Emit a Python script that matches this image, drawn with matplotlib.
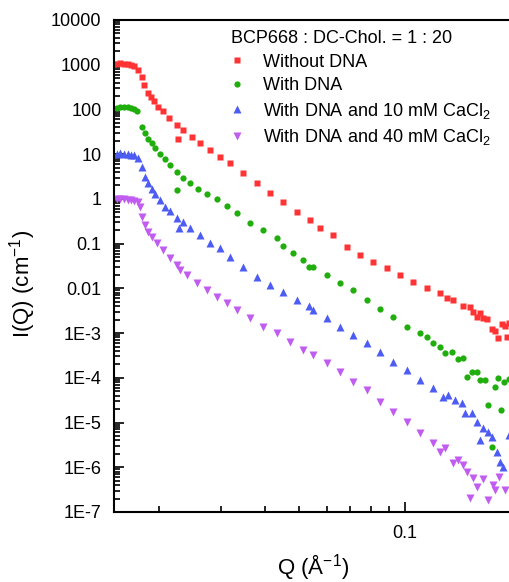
import matplotlib
matplotlib.use("Agg")
import matplotlib.pyplot as plt
from matplotlib.ticker import FixedLocator, NullFormatter, LogLocator

plt.rcParams['font.family'] = ['Liberation Sans', 'DejaVu Sans']
plt.rcParams['mathtext.fontset'] = 'custom'
plt.rcParams['mathtext.rm'] = 'Liberation Sans'
plt.rcParams['mathtext.it'] = 'Liberation Sans:italic'
plt.rcParams['mathtext.bf'] = 'Liberation Sans:bold'

# Q (1/A) and I(Q) (1/cm)
q_red = [0.01481, 0.01520, 0.01550, 0.01591, 0.01633, 0.01666, 0.01699, 0.01744, 0.01790, 0.01814,
         0.01862, 0.01899, 0.01936, 0.01988, 0.02054, 0.02136, 0.02251, 0.02266, 0.02340, 0.02482,
         0.02616, 0.02793, 0.02981, 0.03183, 0.03466, 0.03799, 0.04136, 0.04502, 0.04934, 0.05372,
         0.05735, 0.06244, 0.06843, 0.07450, 0.08111, 0.08889, 0.09678, 0.1054, 0.1155, 0.1257,
         0.1316, 0.1369, 0.1461, 0.1530, 0.1560, 0.1602, 0.1633, 0.1665, 0.1710, 0.1767,
         0.1802, 0.1837, 0.1886, 0.1923, 0.1949, 0.1974]
i_red = [1037, 1037, 1091, 1037, 1037, 985, 935, 762, 531, 352,
         233, 189, 154, 113, 92, 64, 44.8, 21.8, 34.6, 24.1,
         17.7, 12.4, 8.6, 6.3, 3.78, 2.26, 1.35, 0.848, 0.507, 0.336,
         0.222, 0.155, 0.0836, 0.0553, 0.0386, 0.0283, 0.0197, 0.0138, 0.0101, 0.00782,
         0.00604, 0.00545, 0.00400, 0.00380, 0.00294, 0.00227, 0.00279, 0.00215, 0.00205, 0.00122,
         0.00110, 0.00077, 0.00158, 0.00143, 0.00081, 0.00167]

q_green = [0.01481, 0.01520, 0.01550, 0.01591, 0.01633, 0.01666, 0.01699, 0.01732, 0.01790, 0.01826,
           0.01862, 0.01911, 0.01949, 0.02014, 0.02081, 0.02150, 0.02251, 0.02251, 0.02340, 0.02450,
           0.02582, 0.02739, 0.02923, 0.03121, 0.03332, 0.03629, 0.03951, 0.04329, 0.04502, 0.04806,
           0.05131, 0.05337, 0.05478, 0.06005, 0.06536, 0.07117, 0.07798, 0.08490, 0.09245, 0.1013,
           0.1103, 0.1155, 0.1201, 0.1257, 0.1299, 0.1360, 0.1415, 0.1461, 0.1500, 0.1550,
           0.1602, 0.1633, 0.1687, 0.1721, 0.1767, 0.1802, 0.1837, 0.1874, 0.1911, 0.1974]
i_green = [108, 108, 113, 113, 113, 108, 102, 92, 40.4, 29.6,
           21.8, 17.7, 13.7, 10.0, 7.77, 5.70, 3.98, 1.57, 2.92, 2.26,
           1.66, 1.28, 0.99, 0.690, 0.481, 0.288, 0.200, 0.133, 0.0879, 0.0612,
           0.0428, 0.0298, 0.0298, 0.0197, 0.0131, 0.00912, 0.00545, 0.00343, 0.00227, 0.00136,
           0.000996, 0.00081, 0.000596, 0.000484, 0.000356, 0.000374, 0.000261, 0.000275, 0.000103, 0.000134,
           0.000134, 8.85e-5, 8.85e-5, 2.44e-5, 2.80e-6, 6.17e-5, 9.8e-5, 1.88e-5, 7.98e-5, 9.31e-5]

q_blue = [0.01481, 0.01520, 0.01550, 0.01591, 0.01633, 0.01666, 0.01699, 0.01744, 0.01790, 0.01826,
          0.01862, 0.01911, 0.01949, 0.02014, 0.02081, 0.02150, 0.02251, 0.02280, 0.02340, 0.02450,
          0.02616, 0.02793, 0.02981, 0.03183, 0.03466, 0.03799, 0.04136, 0.04502, 0.04934, 0.05337,
          0.05478, 0.06005, 0.06536, 0.07117, 0.07798, 0.08490, 0.09245, 0.1013, 0.1103, 0.1201,
          0.1282, 0.1325, 0.1387, 0.1452, 0.1480, 0.1550, 0.1602, 0.1633, 0.1665, 0.1721,
          0.1767, 0.1825, 0.1862, 0.1899, 0.1974]
i_blue = [10.0, 10.0, 10.6, 10.0, 10.0, 9.55, 9.55, 8.18, 5.14, 3.07,
          2.26, 1.66, 1.28, 0.94, 0.656, 0.533, 0.372, 0.222, 0.303, 0.222,
          0.155, 0.103, 0.0793, 0.0499, 0.0298, 0.0178, 0.0118, 0.00822, 0.00545, 0.00400,
          0.00325, 0.00215, 0.00136, 0.000897, 0.000594, 0.000374, 0.000223, 0.000148, 8.83e-5, 5.85e-5,
          3.68e-5, 4.08e-5, 3.16e-5, 2.70e-5, 1.61e-5, 1.61e-5, 1.02e-5, 4.02e-6, 7.45e-6, 6.07e-6,
          4.69e-6, 2.17e-6, 1.29e-6, 1.0e-6, 5.2e-6]

q_purple = [0.01481, 0.01520, 0.01550, 0.01591, 0.01633, 0.01666, 0.01699, 0.01744, 0.01767, 0.01790,
            0.01826, 0.01862, 0.01911, 0.01975, 0.02054, 0.02150, 0.02251, 0.02295, 0.02402, 0.02565,
            0.02739, 0.02923, 0.03121, 0.03332, 0.03629, 0.03951, 0.04329, 0.04713, 0.05131, 0.05478,
            0.06005, 0.06536, 0.07117, 0.07798, 0.08490, 0.09245, 0.1013, 0.1103, 0.1201, 0.1257,
            0.1299, 0.1369, 0.1415, 0.1461, 0.1500, 0.1530, 0.1560, 0.1602, 0.1633, 0.1665,
            0.1721, 0.1778, 0.1802, 0.1849, 0.1923]
i_purple = [0.94, 0.99, 0.99, 0.99, 0.94, 0.94, 0.893, 0.848, 0.656, 0.392,
            0.259, 0.181, 0.140, 0.103, 0.0716, 0.0474, 0.0330, 0.0255, 0.0197, 0.0131,
            0.00912, 0.00635, 0.00467, 0.00325, 0.00215, 0.00136, 0.000996, 0.000627, 0.000414, 0.000321,
            0.000212, 0.000133, 7.98e-5, 5.28e-5, 2.85e-5, 1.70e-5, 1.02e-5, 5.77e-6, 3.44e-6, 2.17e-6,
            2.66e-6, 1.23e-6, 1.44e-6, 1.11e-6, 7.73e-7, 2.03e-7, 5.68e-7, 3.57e-7, 8.4e-8, 5.39e-7,
            1.83e-7, 3.95e-7, 3.06e-7, 5.97e-7, 3.06e-7]

y_ticks = [1e4, 1e3, 1e2, 1e1, 1, 0.1, 0.01, 1e-3, 1e-4, 1e-5, 1e-6, 1e-7]
y_labels = ["10000", "1000", "100", "10", "1", "0.1", "0.01", "1E-3", "1E-4", "1E-5", "1E-6", "1E-7"]
x_ticks = [0.1]
x_labels = ["0.1"]

fig = plt.figure(figsize=(5.1, 5.82), dpi=100)
ax = fig.add_axes([114/510, 1 - 512/582, 398/510, 492/582])

ax.plot(q_red, i_red, 's', color='#ff3333', ms=4.2, mec='none', label='Without DNA')
ax.plot(q_green, i_green, 'o', color='#1fae0b', ms=4.5, mec='none', label='With DNA')
ax.plot(q_blue, i_blue, '^', color='#4d5cf2', ms=5.5, mec='none', label='With DNA and 10 mM CaCl$_2$')
ax.plot(q_purple, i_purple, 'v', color='#c05cf0', ms=5.5, mec='none', label='With DNA and 40 mM CaCl$_2$')

ax.set_xscale('log')
ax.set_yscale('log')
ax.set_xlim(0.01491, 0.2014)
ax.set_ylim(1e-7, 1e4)

ax.yaxis.set_major_locator(FixedLocator(y_ticks))
ax.set_yticklabels(y_labels)
ax.yaxis.set_minor_locator(LogLocator(base=10, subs=range(2, 10), numticks=50))
ax.yaxis.set_minor_formatter(NullFormatter())
ax.xaxis.set_major_locator(FixedLocator(x_ticks))
ax.set_xticklabels(x_labels)
ax.xaxis.set_minor_locator(LogLocator(base=10, subs=range(2, 10), numticks=50))
ax.xaxis.set_minor_formatter(NullFormatter())

ax.tick_params(which='both', direction='in', width=1.2, labelsize=13, top=False, right=False)
ax.tick_params(which='major', length=7)
ax.tick_params(which='minor', length=4)
ax.tick_params(axis='y', pad=9)
ax.tick_params(axis='x', pad=9)
for s in ['left', 'bottom', 'top']:
    ax.spines[s].set_linewidth(1.5)
ax.spines['right'].set_visible(False)

ax.set_xlabel('Q (Å$^{-1}$)', fontsize=16)
ax.set_ylabel('I(Q) (cm$^{-1}$)', fontsize=16)
ax.xaxis.set_label_coords(0.5, -0.081)
ax.yaxis.set_label_coords(-0.191, 0.463)

leg = ax.legend(loc='upper left', bbox_to_anchor=(224/510, 1 - 23/582), bbox_transform=fig.transFigure,
                frameon=False, title='BCP668 : DC-Chol. = 1 : 20', fontsize=13, title_fontsize=13,
                handlelength=0.6, handletextpad=1.17, labelspacing=0.36, borderpad=0.4,
                alignment='left', borderaxespad=0)

fig.savefig('out.png', dpi=100)
